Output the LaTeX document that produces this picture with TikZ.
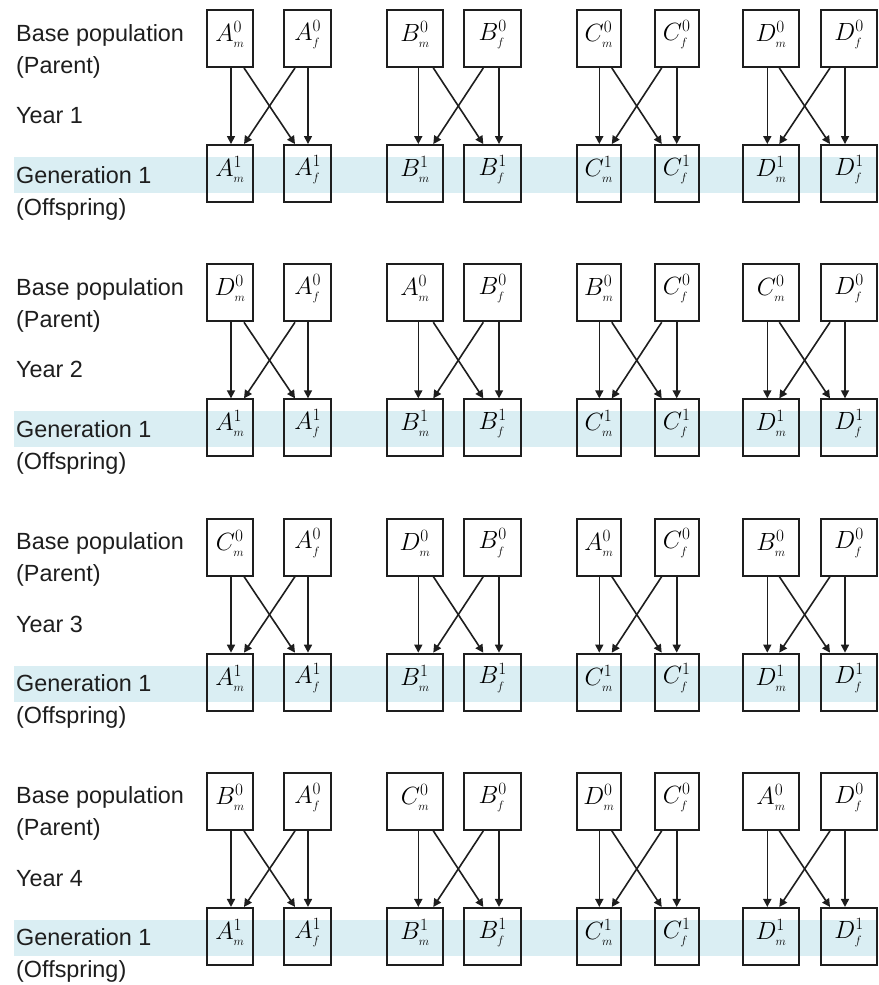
\documentclass[tikz,border=0pt]{standalone}
\usepackage{fontspec}
\setmainfont{Liberation Sans}
\usepackage{tikz}
\usetikzlibrary{arrows.meta,calc}
\definecolor{genblue}{RGB}{218,238,243}
\definecolor{boxgray}{RGB}{30,30,30}

\tikzset{
  cell/.style={draw=boxgray, line width=1.9pt, minimum height=57pt, inner sep=0pt},
  cellmath/.style={font=\fontsize{23}{26}\selectfont, yshift=4pt},
  lbl/.style={anchor=base west, inner sep=0pt, font=\fontsize{23.4}{27}\selectfont, text=boxgray},
  link/.style={-{Triangle[length=8pt,width=8pt]}, line width=1.6pt, draw=boxgray},
  band/.style={fill=genblue}
}

\begin{document}
\begin{tikzpicture}[x=1pt,y=-1pt]
  \fill[white] (0,0) rectangle (878,985);
  \useasboundingbox (0,0) rectangle (878,985);

  \foreach \yr in {1,...,4}{
    \pgfmathsetmacro{\ytop}{10+(\yr-1)*254.3}
    \fill[band] (14,\ytop+147) rectangle (878,\ytop+183);
    \node[lbl] (base\yr) at (16,\ytop+31) {Base population};
    \node[lbl] (par\yr)  at (16,\ytop+63) {(Parent)};
    \node[lbl] (year\yr) at (16,\ytop+113.5) {Year \yr};
    \node[lbl] (gen\yr)  at (16,\ytop+173) {Generation 1};
    \node[lbl] (off\yr)  at (16,\ytop+205) {(Offspring)};

    \foreach \g/\xm/\xf/\w/\fl/\dmv/\dmi/\dfi/\dfv in
        {1/230/307.7/46.7/A/1/14/-12.7/0.3,
         2/415/492.7/56.7/B/3.3/18.3/-9.4/6.3,
         3/598.8/676.7/44.3/C/0.5/13/-15/0,
         4/771/849/56.7/D/-3.7/8.3/-19/-4}{
      \pgfmathparse{{"A","B","C","D"}[int(mod(\g-\yr+4,4))]}
      \let\ml\pgfmathresult
      % parents
      \node[cell, minimum width=\w pt,
            label={[cellmath]center:$\ml^{0}_{\scriptscriptstyle m}$}]
            (pm\yr\g) at (\xm,\ytop+28.5) {};
      \node[cell, minimum width=\w pt,
            label={[cellmath]center:$\fl^{0}_{\scriptscriptstyle f}$}]
            (pf\yr\g) at (\xf,\ytop+28.5) {};
      % offspring
      \node[cell, minimum width=\w pt,
            label={[cellmath]center:$\fl^{1}_{\scriptscriptstyle m}$}]
            (om\yr\g) at (\xm,\ytop+163.5) {};
      \node[cell, minimum width=\w pt,
            label={[cellmath]center:$\fl^{1}_{\scriptscriptstyle f}$}]
            (of\yr\g) at (\xf,\ytop+163.5) {};

      \draw[link] ([xshift=\dmv pt]pm\yr\g.south) -- ([xshift=\dmv pt]om\yr\g.north);
      \draw[link] ([xshift=\dfv pt]pf\yr\g.south) -- ([xshift=\dfv pt]of\yr\g.north);
      \draw[link] ([xshift=\dmi pt]pm\yr\g.south) -- ([xshift=\dfi pt]of\yr\g.north);
      \draw[link] ([xshift=\dfi pt]pf\yr\g.south) -- ([xshift=\dmi pt]om\yr\g.north);
    }
  }
\end{tikzpicture}
\end{document}
